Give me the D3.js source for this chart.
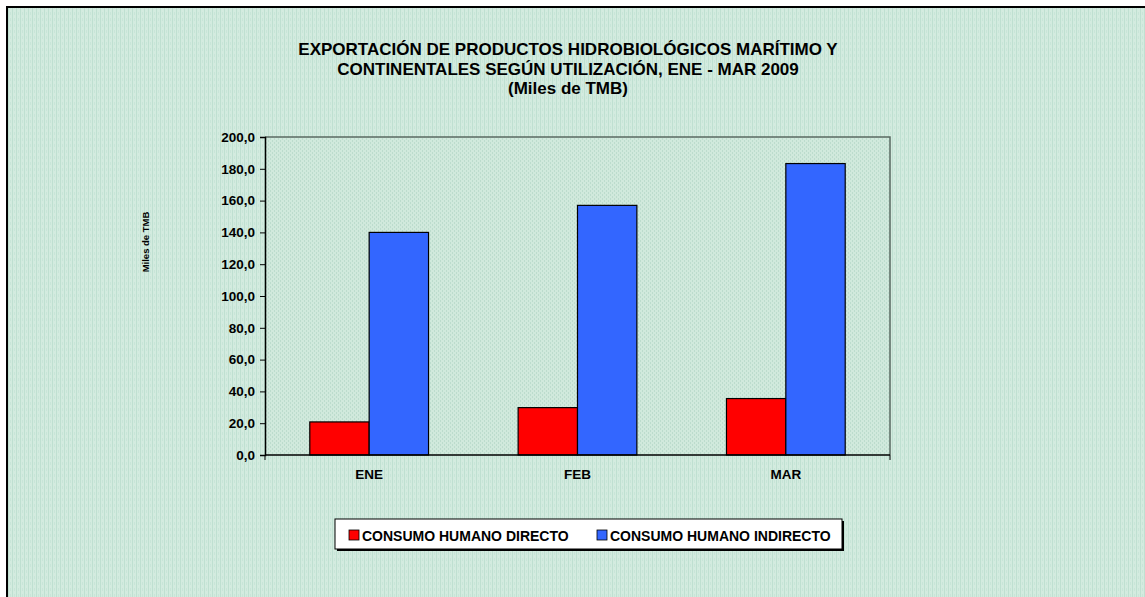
<!DOCTYPE html>
<html>
<head>
<meta charset="utf-8">
<script src="https://cdn.jsdelivr.net/npm/d3@7"></script>
<style>
  body { margin: 0; background: #fff; }
  text { font-family: Arial, "Liberation Sans", sans-serif; font-weight: bold; }
</style>
</head>
<body>
<div id="chart"></div>
<script>
// chart data
var categories = ["ENE", "FEB", "MAR"];
var seriesNames = ["CONSUMO HUMANO DIRECTO", "CONSUMO HUMANO INDIRECTO"];
var directo = [20.8, 29.8, 35.5];
var indirecto = [140.0, 157.0, 183.3];
var yTicks = [0, 20, 40, 60, 80, 100, 120, 140, 160, 180, 200];
var titleLines = [
    "EXPORTACIÓN DE PRODUCTOS HIDROBIOLÓGICOS MARÍTIMO Y",
    "CONTINENTALES SEGÚN UTILIZACIÓN, ENE - MAR 2009",
    "(Miles de TMB)"
];
var colors = ["#ff0000", "#3366ff"];

var width = 1145, height = 597;
var plot = { left: 265, top: 137, right: 890, bottom: 455 };

var svg = d3.select("#chart").append("svg")
    .attr("width", width)
    .attr("height", height);

var defs = svg.append("defs");

// striped chart background
var pat = defs.append("pattern").attr("id", "bgpat")
    .attr("patternUnits", "userSpaceOnUse").attr("width", 4).attr("height", 6);
pat.append("rect").attr("width", 4).attr("height", 6).attr("fill", "#d3ebdf");
pat.append("rect").attr("x", 0).attr("width", 1).attr("height", 6).attr("fill", "#bfe0d1");
pat.append("rect").attr("x", 2).attr("y", 0).attr("width", 1).attr("height", 3).attr("fill", "#c8e5d8");

// plot area texture
var pat2 = defs.append("pattern").attr("id", "plotpat")
    .attr("patternUnits", "userSpaceOnUse").attr("width", 4).attr("height", 4);
pat2.append("rect").attr("width", 4).attr("height", 4).attr("fill", "#d0e9dc");
pat2.append("rect").attr("x", 0).attr("y", 0).attr("width", 1).attr("height", 2).attr("fill", "#bcdccd");
pat2.append("rect").attr("x", 2).attr("y", 2).attr("width", 1).attr("height", 2).attr("fill", "#bcdccd");

svg.append("rect").attr("x", 0).attr("y", 0).attr("width", width).attr("height", height)
    .attr("fill", "#fff");
svg.append("rect").attr("x", 7).attr("y", 7).attr("width", width + 20).attr("height", height + 20)
    .attr("fill", "url(#bgpat)")
    .attr("stroke", "#000").attr("stroke-width", 2);

// title
svg.append("g").selectAll("text")
    .data(titleLines)
    .enter().append("text")
    .attr("x", 568)
    .attr("y", function (d, i) { return 55 + i * 19.5; })
    .attr("text-anchor", "middle")
    .style("font-size", "17px")
    .text(function (d) { return d; });

// scales
var x0 = d3.scaleBand().domain(categories).range([plot.left, plot.right]).paddingInner(0.43).paddingOuter(0.215);
var x1 = d3.scaleBand().domain([0, 1]).range([0, x0.bandwidth()]);
var y = d3.scaleLinear().domain([0, 200]).range([plot.bottom, plot.top]);

svg.append("rect")
    .attr("x", plot.left).attr("y", plot.top)
    .attr("width", plot.right - plot.left).attr("height", plot.bottom - plot.top)
    .attr("fill", "url(#plotpat)");

// top and right border of plot area
svg.append("path")
    .attr("d", "M" + plot.left + "," + plot.top + "H" + plot.right + "V" + plot.bottom)
    .attr("fill", "none").attr("stroke", "#5a6a62").attr("stroke-width", 1.5);

// bars
var data = categories.map(function (c, i) { return { cat: c, vals: [directo[i], indirecto[i]] }; });
var groups = svg.append("g").selectAll("g")
    .data(data).enter().append("g")
    .attr("transform", function (d) { return "translate(" + x0(d.cat) + ",0)"; });
groups.selectAll("rect")
    .data(function (d) { return d.vals; })
    .enter().append("rect")
    .attr("x", function (d, i) { return x1(i); })
    .attr("y", function (d) { return y(d); })
    .attr("width", x1.bandwidth())
    .attr("height", function (d) { return y(0) - y(d); })
    .attr("fill", function (d, i) { return colors[i]; })
    .attr("stroke", "#000").attr("stroke-width", 1.2);

var fontStack = "Arial, 'Liberation Sans', sans-serif";

// y axis
var yAxis = svg.append("g")
    .attr("transform", "translate(" + plot.left + ",0)")
    .call(d3.axisLeft(y).tickValues(yTicks).tickSize(5).tickPadding(5)
        .tickFormat(function (d) { return d3.format(".1f")(d).replace(".", ","); }));
yAxis.select(".domain").attr("stroke", "#000").attr("stroke-width", 1.5);
yAxis.selectAll(".tick line").attr("stroke", "#000");
yAxis.selectAll("text").style("font-size", "13.5px").style("font-family", fontStack).style("font-weight", "bold").attr("fill", "#000");

// x axis
var xAxis = svg.append("g")
    .attr("transform", "translate(0," + plot.bottom + ")")
    .call(d3.axisBottom(x0).tickSize(0).tickPadding(14));
xAxis.select(".domain").attr("stroke", "#000").attr("stroke-width", 1.5)
    .attr("d", "M" + plot.left + ",0H" + plot.right);
xAxis.selectAll("text").style("font-size", "13.5px").style("font-family", fontStack).style("font-weight", "bold").attr("fill", "#000");
// category separators
svg.append("g").selectAll("line")
    .data([plot.left, plot.right]).enter().append("line")
    .attr("x1", function (d) { return d; }).attr("x2", function (d) { return d; })
    .attr("y1", plot.bottom).attr("y2", plot.bottom + 5)
    .attr("stroke", "#000");

// y axis title
svg.append("text")
    .attr("transform", "translate(149,242) rotate(-90)")
    .attr("text-anchor", "middle")
    .style("font-size", "9.5px")
    .text("Miles de TMB");

// legend
var legend = svg.append("g");
legend.append("rect").attr("x", 337).attr("y", 521).attr("width", 507).attr("height", 30).attr("fill", "#000");
legend.append("rect").attr("x", 335).attr("y", 519).attr("width", 507).attr("height", 30)
    .attr("fill", "#fff").attr("stroke", "#000").attr("stroke-width", 1);
var legX = [349, 597];
var items = legend.selectAll("g.item").data(seriesNames).enter().append("g")
    .attr("transform", function (d, i) { return "translate(" + legX[i] + ",530)"; });
items.append("rect").attr("width", 10).attr("height", 10)
    .attr("fill", function (d, i) { return colors[i]; })
    .attr("stroke", "#000").attr("stroke-width", 0.8);
items.append("text").attr("x", 13).attr("y", 10.5)
    .style("font-size", "14px")
    .text(function (d) { return d; });
</script>
</body>
</html>
